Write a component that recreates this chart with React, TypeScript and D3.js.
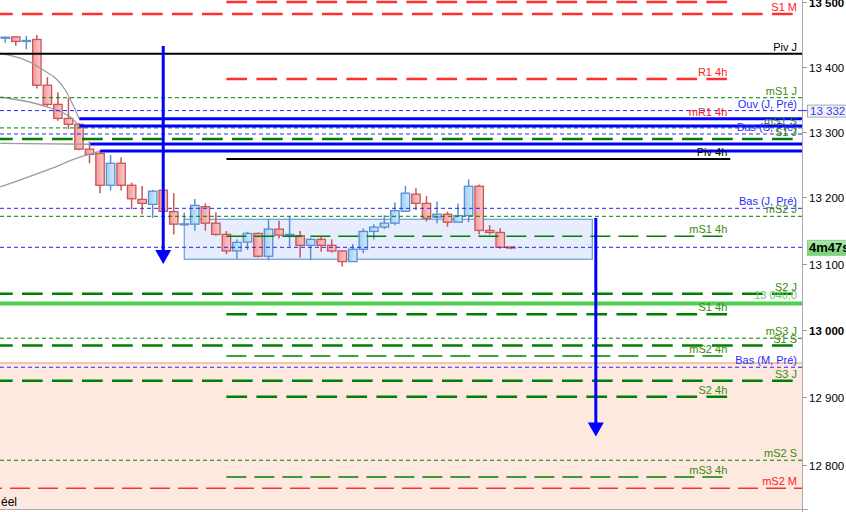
import React, { useRef, useEffect } from "react";
import * as d3 from "d3";

const W = 846;
const H = 512;
const plotRight = 802;
const plotBottom = 509;

// 10-minute candles
const opens = [13444, 13446, 13440, 13442, 13371.5, 13342, 13320.5, 13311.5, 13273.5, 13267, 13218.5, 13252, 13218.5, 13197, 13189.5, 13211, 13178.5, 13159.5, 13159.5, 13186, 13161, 13144, 13119, 13132.5, 13145.5, 13111, 13152, 13142, 13142, 13127.5, 13136.5, 13127.5, 13119, 13103, 13121.5, 13148.5, 13155, 13161, 13179, 13205, 13191, 13170, 13174.5, 13162.5, 13172.5, 13217, 13150, 13147, 13125];
const highs = [13446.5, 13447, 13447.5, 13449, 13384, 13360.5, 13352, 13313.5, 13285, 13272, 13264.5, 13261, 13222.5, 13217.5, 13211.5, 13212.5, 13206.5, 13177, 13197.5, 13191, 13177.5, 13149, 13136.5, 13148, 13147, 13167, 13164.5, 13171, 13149, 13139, 13140.5, 13136.5, 13120.5, 13129.5, 13153, 13159.5, 13173, 13192.5, 13217.5, 13214, 13202, 13194, 13178.5, 13191, 13227.5, 13219.5, 13158, 13153.5, 13125];
const lows = [13437, 13432.5, 13427, 13366.5, 13339.5, 13317, 13304, 13272, 13252, 13206.5, 13210.5, 13210.5, 13182, 13174.5, 13169, 13172, 13144, 13159.5, 13149.5, 13149.5, 13142, 13114, 13107, 13120.5, 13109, 13105, 13138, 13125.5, 13109, 13105, 13118, 13116.5, 13095.5, 13103, 13115.5, 13136.5, 13152, 13158, 13179, 13181, 13163.5, 13161, 13155.5, 13162.5, 13162.5, 13144, 13144, 13122.5, 13121.5];
const closes = [13445.5, 13439, 13440.5, 13371.5, 13342, 13320.5, 13311.5, 13273.5, 13265.5, 13218.5, 13252, 13218.5, 13198, 13191, 13209.5, 13179, 13159.5, 13160, 13188, 13161, 13144, 13119, 13132, 13145.5, 13111, 13152, 13143, 13144, 13127.5, 13136.5, 13127.5, 13119, 13103, 13121.5, 13148.5, 13155, 13161, 13180, 13206.5, 13191, 13168.5, 13174.5, 13162.5, 13172.5, 13217, 13150, 13147, 13124.5, 13124.5];

// daily / weekly / monthly levels (full width)
const dailyLabels = ["S1 M", "Piv J", "mS1 J", "Ouv (J, Pré)", "mS1 S", "Bas (S, Pré)", "S1 J", "Bas (J, Pré)", "mS2 J", "S2 J", "mS3 J", "S1 S", "Bas (M, Pré)", "S3 J", "mS2 S", "mS2 M"];
const dailyPrices = [13481.5, 13420, 13352.3, 13332.5, 13306, 13296.7, 13289, 13183.5, 13171.4, 13054.7, 12988, 12977, 12944.7, 12924.7, 12807, 12765.8];

// 4h levels (partial width)
const h4Labels = ["R2 4h", "R1 4h", "mR1 4h", "Piv 4h", "mS1 4h", "S1 4h", "mS2 4h", "S2 4h", "mS3 4h"];
const h4Prices = [13500, 13381, 13319.6, 13258.5, 13141.2, 13023.8, 12961.5, 12901, 12782.4];
const h4Span = [21, 68.85];

// alert line
const alertPrice = 13040;

// user drawn trend lines: start bar, price
const userLineStarts = [7.03, 7.03, 8.07, 9.02];
const userLinePrices = [13320, 13309, 13281.4, 13270.7];

// gray arcs (bar index, price)
const arcs: [number, number][][] = [
  [[-0.47, 13421.1], [3.32, 13398], [5.7, 13364.1], [7.03, 13319.6]],
  [[-0.47, 13353.4], [4.27, 13336.5], [6.17, 13322.7], [7.03, 13308.9]],
  [[-0.47, 13282.5], [8.07, 13281]],
  [[-0.47, 13215.9], [4.27, 13243.3], [7.12, 13261.6], [9.02, 13270.7]],
];

// consolidation box and arrows
const boxBars = [17, 55.75];
const boxPrices = [13166.9, 13106.5];
const arrowBars = [15, 56.08];
const arrowFrom = [13432, 13169];
const arrowTo = [13099.4, 12842.2];

// shaded zone
const zonePrices = [12951, 12700];

const yTicks = [12800, 12900, 13000, 13100, 13200, 13300, 13400, 13500];
const timerText = "4m47s";

const locale = d3.formatLocale({ decimal: ",", thousands: " ", grouping: [3], currency: ["", ""] });
const fmtInt = locale.format(",");
const fmt1 = locale.format(",.1f");

const FONT = "'Liberation Sans', Arial, sans-serif";

function isRed(l: string) {
  return l.endsWith(" M") || l.startsWith("R") || l.startsWith("mR");
}
function lineColor(l: string) {
  if (l.startsWith("Piv")) return "#000";
  if (l.startsWith("Ouv") || l.startsWith("Bas")) return "#2424ff";
  return isRed(l) ? "#ff3030" : "#008000";
}
function textColor(l: string) {
  if (l.startsWith("Piv")) return "#000";
  if (l.startsWith("Ouv") || l.startsWith("Bas")) return "#2a2aff";
  return isRed(l) ? "#ff2020" : "#3a8a0a";
}

const App: React.FC = () => {
  const svgRef = useRef<SVGSVGElement>(null);

  useEffect(() => {
    if (!svgRef.current) return;
    const svg = d3.select(svgRef.current);
    svg.selectAll("*").remove();

    const x = d3.scaleLinear().domain([-0.5, 75.5]).range([0, 800.3]);
    const y = d3.scaleLog().domain([12800, 13400]).range([465, 66.7]);
    const step = x(1) - x(0);
    const bodyW = step * 0.8;

    const defs = svg.append("defs");
    defs
      .append("clipPath")
      .attr("id", "plot")
      .append("rect")
      .attr("x", 0)
      .attr("y", 0)
      .attr("width", plotRight)
      .attr("height", plotBottom);
    const grad = (id: string, c0: string, c1: string, vertical = false) => {
      const g = defs
        .append("linearGradient")
        .attr("id", id)
        .attr("x1", 0)
        .attr("y1", 0)
        .attr("x2", vertical ? 0 : 1)
        .attr("y2", vertical ? 1 : 0);
      g.append("stop").attr("offset", "0%").attr("stop-color", c0);
      g.append("stop").attr("offset", "100%").attr("stop-color", c1);
    };
    grad("bear", "#f49898", "#fccaca");
    grad("bull", "#9ccff3", "#d2ebfb");
    grad("timer", "#a8eaa8", "#74d474", true);

    svg.append("rect").attr("width", W).attr("height", H).attr("fill", "#fff");
    const plot = svg.append("g").attr("clip-path", "url(#plot)");

    // shaded zone
    plot
      .append("rect")
      .attr("x", 0)
      .attr("y", y(zonePrices[0]))
      .attr("width", plotRight)
      .attr("height", y(zonePrices[1]) - y(zonePrices[0]))
      .attr("fill", "#fde9df");
    plot
      .append("line")
      .attr("x1", 0)
      .attr("x2", plotRight)
      .attr("y1", y(zonePrices[0]))
      .attr("y2", y(zonePrices[0]))
      .attr("stroke", "#f6b595")
      .attr("stroke-width", 1.5);

    // box
    plot
      .append("rect")
      .attr("x", x(boxBars[0]))
      .attr("y", y(boxPrices[0]))
      .attr("width", x(boxBars[1]) - x(boxBars[0]))
      .attr("height", y(boxPrices[1]) - y(boxPrices[0]))
      .attr("fill", "#e6edfc")
      .attr("stroke", "#76a0e2")
      .attr("stroke-width", 1.3);

    // candles
    const cg = plot.append("g");
    d3.range(opens.length).forEach((i) => {
      const up = closes[i] >= opens[i];
      const stroke = up ? "#5a8fd4" : "#c9565a";
      const cx = x(i);
      cg.append("line")
        .attr("x1", cx)
        .attr("x2", cx)
        .attr("y1", y(highs[i]))
        .attr("y2", y(lows[i]))
        .attr("stroke", stroke)
        .attr("stroke-width", 1.5);
      const top = y(Math.max(opens[i], closes[i]));
      const bot = y(Math.min(opens[i], closes[i]));
      cg.append("rect")
        .attr("x", cx - bodyW / 2)
        .attr("y", top)
        .attr("width", bodyW)
        .attr("height", Math.max(bot - top, 1))
        .attr("fill", `url(#${up ? "bull" : "bear"})`)
        .attr("stroke", stroke)
        .attr("stroke-width", 1.3);
    });

    // gray arcs
    const arcLine = d3
      .line<[number, number]>()
      .x((d) => x(d[0]))
      .y((d) => y(d[1]))
      .curve(d3.curveMonotoneX);
    arcs.forEach((a) => {
      plot.append("path").attr("d", arcLine(a)).attr("fill", "none").attr("stroke", "#9c9c9c").attr("stroke-width", 1.3);
    });

    // daily levels
    const labels = svg.append("g").attr("font-family", FONT).attr("font-size", 11).attr("text-anchor", "end");
    dailyLabels.forEach((l, i) => {
      const yy = y(dailyPrices[i]);
      const mid = l.startsWith("m");
      const dotted = l.startsWith("Ouv") || l.startsWith("Bas") || (mid && !isRed(l));
      const ln = plot
        .append("line")
        .attr("x1", 0)
        .attr("x2", plotRight)
        .attr("y1", yy)
        .attr("y2", yy)
        .attr("stroke", lineColor(l));
      if (l.startsWith("Piv")) ln.attr("stroke-width", 2);
      else if (dotted) ln.attr("stroke-width", 1).attr("stroke-dasharray", "4,3");
      else if (mid) ln.attr("stroke-width", 1.5).attr("stroke-dasharray", "20,8").attr("stroke-dashoffset", 18);
      else ln.attr("stroke-width", 2.5).attr("stroke-dasharray", "20.7,9.3").attr("stroke-dashoffset", 8);
      labels.append("text").attr("x", 797).attr("y", yy - 3).attr("fill", textColor(l)).text(l);
    });

    // 4h levels
    h4Labels.forEach((l, i) => {
      const yy = y(h4Prices[i]);
      const ln = plot
        .append("line")
        .attr("x1", x(h4Span[0]))
        .attr("x2", x(h4Span[1]))
        .attr("y1", yy)
        .attr("y2", yy)
        .attr("stroke", lineColor(l));
      if (l.startsWith("Piv")) ln.attr("stroke-width", 2);
      else if (l.startsWith("m")) ln.attr("stroke-width", 1.5).attr("stroke-dasharray", "20,8");
      else ln.attr("stroke-width", 2.5).attr("stroke-dasharray", "20.7,9.3");
      if (yy > 10) labels.append("text").attr("x", x(h4Span[1]) - 3).attr("y", yy - 3).attr("fill", textColor(l)).text(l);
    });

    // current price line
    const lastY = y(closes[closes.length - 1]);
    plot
      .append("line")
      .attr("x1", 0)
      .attr("x2", plotRight)
      .attr("y1", lastY)
      .attr("y2", lastY)
      .attr("stroke", "#2424ff")
      .attr("stroke-dasharray", "4,3");

    // alert line
    const alY = y(alertPrice);
    plot
      .append("line")
      .attr("x1", 0)
      .attr("x2", plotRight)
      .attr("y1", alY)
      .attr("y2", alY)
      .attr("stroke", "#4fcf4f")
      .attr("stroke-width", 4);
    labels.append("text").attr("x", 797).attr("y", alY - 4).attr("fill", "#6cc86c").text(fmt1(alertPrice));

    // user trend lines
    userLineStarts.forEach((s, i) => {
      const yy = y(userLinePrices[i]);
      plot
        .append("line")
        .attr("x1", x(s))
        .attr("x2", plotRight)
        .attr("y1", yy)
        .attr("y2", yy)
        .attr("stroke", "#0000ff")
        .attr("stroke-width", 3);
    });

    // arrows
    arrowBars.forEach((b, i) => {
      const ax = x(b);
      const y0 = y(arrowFrom[i]);
      const y1 = y(arrowTo[i]);
      plot
        .append("line")
        .attr("x1", ax)
        .attr("x2", ax)
        .attr("y1", y0)
        .attr("y2", y1 - 12)
        .attr("stroke", "#0000ff")
        .attr("stroke-width", 3);
      plot
        .append("path")
        .attr("d", `M${ax - 8},${y1 - 14}L${ax + 8},${y1 - 14}L${ax},${y1}Z`)
        .attr("fill", "#0000ff");
    });

    labels.append("text").attr("x", 1).attr("y", 506).attr("text-anchor", "start").attr("font-size", 12).attr("fill", "#000").text("éel");

    // axis
    const axis = svg.append("g");
    axis.append("line").attr("x1", plotRight + 0.5).attr("x2", plotRight + 0.5).attr("y1", 0).attr("y2", H).attr("stroke", "#aaa");
    axis.append("line").attr("x1", 0).attr("x2", plotRight + 6).attr("y1", plotBottom + 0.5).attr("y2", plotBottom + 0.5).attr("stroke", "#aaa");
    yTicks.forEach((t) => {
      const yy = Math.round(y(t)) + 0.5;
      axis.append("line").attr("x1", plotRight).attr("x2", plotRight + 5).attr("y1", yy).attr("y2", yy).attr("stroke", "#999");
      axis
        .append("text")
        .attr("x", 809)
        .attr("y", yy + 4)
        .attr("font-family", FONT)
        .attr("font-size", 11.5)
        .attr("font-weight", t % 500 === 0 ? "bold" : "normal")
        .attr("fill", "#000")
        .text(fmtInt(t));
    });

    // open price tag
    const ouvY = y(dailyPrices[3]);
    axis.append("line").attr("x1", plotRight).attr("x2", 807).attr("y1", ouvY).attr("y2", ouvY).attr("stroke", "#2424ff");
    axis
      .append("rect")
      .attr("x", 807.5)
      .attr("y", ouvY - 5.5)
      .attr("width", 50)
      .attr("height", 12)
      .attr("fill", "#f2f2ff")
      .attr("stroke", "#aaa");
    axis
      .append("text")
      .attr("x", 810)
      .attr("y", ouvY + 4.5)
      .attr("font-family", FONT)
      .attr("font-size", 11.5)
      .attr("fill", "#3a3ae0")
      .text(fmt1(dailyPrices[3]));

    // timer tag at current price
    axis
      .append("rect")
      .attr("x", 807.5)
      .attr("y", lastY - 7)
      .attr("width", 50)
      .attr("height", 15)
      .attr("fill", "url(#timer)")
      .attr("stroke", "#8ccc8c");
    axis
      .append("text")
      .attr("x", 809)
      .attr("y", lastY + 5)
      .attr("font-family", FONT)
      .attr("font-size", 13)
      .attr("font-weight", "bold")
      .attr("fill", "#000")
      .text(timerText);
  }, []);

  return <svg ref={svgRef} width={W} height={H} style={{ position: "absolute", left: 0, top: 0 }}></svg>;
};

export default App;
